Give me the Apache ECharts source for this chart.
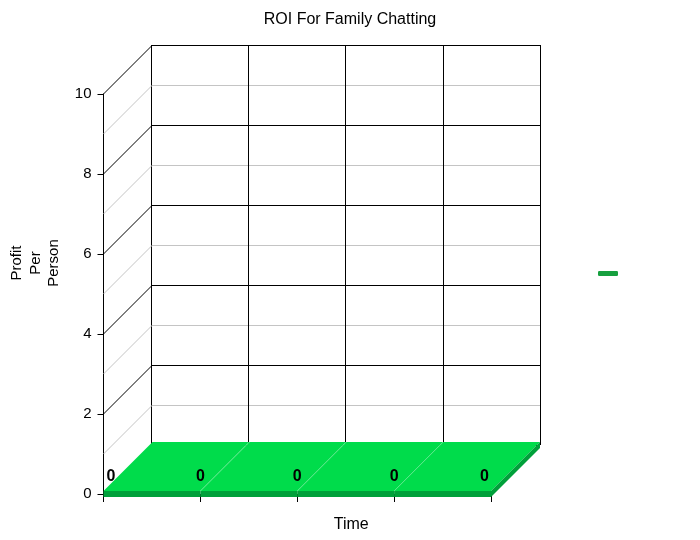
<!DOCTYPE html>
<html>
<head>
<meta charset="utf-8">
<script src="https://cdn.jsdelivr.net/npm/echarts@6/dist/echarts.min.js"></script>
<style>
    html, body { margin: 0; padding: 0; background: #fff; }
    #main { width: 700px; height: 540px; }
</style>
</head>
<body>
<div id="main"></div>
<script>
    // data
    var categories = ['1', '2', '3', '4', '5'];
    var profit = [0, 0, 0, 0, 0];
    var wallLevels = [0, 1, 2, 3, 4, 5, 6, 7, 8, 9, 10];

    var D = 49;      // depth of the fake 3d box, px
    var T = 3;       // half thickness of the floor
    var font = 'Liberation Sans, Arial, sans-serif';

    var myChart = echarts.init(document.getElementById('main'));
    var option = {
        animation: false,
        textStyle: { fontFamily: font },
        title: {
            text: 'ROI For Family Chatting',
            left: 'center',
            top: 7,
            textStyle: { fontSize: 16, fontWeight: 'normal', color: '#000', fontFamily: font }
        },
        legend: {
            left: 593,
            top: 266,
            itemWidth: 20,
            itemHeight: 5,
            icon: 'roundRect',
            data: [{ name: 'Profit', itemStyle: { color: '#17a03f' } }],
            formatter: function () { return ''; }
        },
        grid: [
            { left: 102, top: 94, width: 389, height: 400 },
            { left: 151, top: 45, width: 389, height: 400 }
        ],
        xAxis: [
            {
                gridIndex: 0,
                type: 'category',
                data: categories,
                boundaryGap: false,
                axisLine: { show: false },
                axisTick: { show: true, length: 8, lineStyle: { color: '#000' } },
                axisLabel: { show: false },
                splitLine: { show: false },
                name: 'Time',
                nameLocation: 'middle',
                nameGap: 23,
                nameTextStyle: { fontSize: 16, color: '#000', padding: [0, 0, 0, 108] }
            },
            {
                gridIndex: 1,
                type: 'category',
                data: categories,
                boundaryGap: false,
                axisLine: { show: false },
                axisTick: { show: false },
                axisLabel: { show: false },
                splitLine: { show: true, lineStyle: { color: '#000', width: 1 } }
            }
        ],
        yAxis: [
            {
                gridIndex: 0,
                type: 'value',
                min: 0,
                max: 10,
                interval: 2,
                axisLine: { show: true, lineStyle: { color: '#000' } },
                axisTick: { show: true, length: 6, lineStyle: { color: '#000' } },
                axisLabel: { fontSize: 15, color: '#000', margin: 12 },
                splitLine: { show: false },
                name: 'Profit\nPer\nPerson',
                nameLocation: 'middle',
                nameRotate: 90,
                nameGap: 40,
                nameTextStyle: { fontSize: 15, color: '#000', lineHeight: 18.5, align: 'center', padding: [0, 0, 0, 62] }
            },
            {
                gridIndex: 1,
                type: 'value',
                min: 0,
                max: 10,
                interval: 1,
                axisLine: { show: false },
                axisTick: { show: false },
                axisLabel: { show: false },
                splitLine: { show: true, lineStyle: { color: ['#000', '#c4c4c4'], width: 1 } }
            }
        ],
        series: [
            {
                // left side wall
                type: 'custom',
                name: 'wall',
                silent: true,
                xAxisIndex: 0,
                yAxisIndex: 0,
                z: 1,
                data: wallLevels.map(function (v) { return [0, v]; }),
                renderItem: function (params, api) {
                    var v = api.value(1);
                    var p = api.coord([0, v]);
                    return {
                        type: 'line',
                        shape: { x1: p[0], y1: p[1], x2: p[0] + D, y2: p[1] - D },
                        style: { stroke: v % 2 === 0 ? '#000' : '#c4c4c4', lineWidth: 1 }
                    };
                }
            },
            {
                // the floor / ribbon
                type: 'custom',
                name: 'Profit',
                xAxisIndex: 0,
                yAxisIndex: 0,
                z: 3,
                itemStyle: { color: '#17a03f' },
                data: profit.map(function (v, i) { return [i, v]; }),
                renderItem: function (params, api) {
                    var i = api.value(0);
                    var v = api.value(1);
                    var p0 = api.coord([i, v]);
                    var children = [];
                    var last = i === profit.length - 1;
                    if (!last) {
                        var p1 = api.coord([i + 1, profit[i + 1]]);
                        children.push({
                            type: 'polygon',
                            shape: { points: [[p0[0], p0[1] - T], [p1[0], p1[1] - T], [p1[0] + D, p1[1] - T - D], [p0[0] + D, p0[1] - T - D]] },
                            style: { fill: '#00dc4b' }
                        });
                        children.push({
                            type: 'polygon',
                            shape: { points: [[p0[0], p0[1] - T], [p1[0], p1[1] - T], [p1[0], p1[1] + T], [p0[0], p0[1] + T]] },
                            style: { fill: '#00a03a' }
                        });
                        if (i === profit.length - 2) {
                            children.push({
                                type: 'polygon',
                                shape: { points: [[p1[0], p1[1] - T], [p1[0] + D, p1[1] - T - D], [p1[0] + D, p1[1] + T - D], [p1[0], p1[1] + T]] },
                                style: { fill: '#00a03a' }
                            });
                        }
                    }
                    if (i > 0 && !last) {
                        children.push({
                            type: 'line',
                            z2: 5,
                            shape: { x1: p0[0], y1: p0[1] - T, x2: p0[0] + D, y2: p0[1] - T - D },
                            style: { stroke: '#5be88a', lineWidth: 1 }
                        });
                    }
                    var align = i === 0 ? 'left' : (last ? 'right' : 'center');
                    var dx = i === 0 ? 3 : (last ? -2 : 0);
                    children.push({
                        type: 'text',
                        z2: 10,
                        x: p0[0] + dx,
                        y: p0[1] - 17,
                        style: {
                            text: String(v),
                            fontSize: 16,
                            fontWeight: 'bold',
                            fontFamily: font,
                            fill: '#000',
                            align: align,
                            verticalAlign: 'middle'
                        }
                    });
                    return { type: 'group', children: children };
                }
            }
        ]
    };
    myChart.setOption(option);
</script>
</body>
</html>
